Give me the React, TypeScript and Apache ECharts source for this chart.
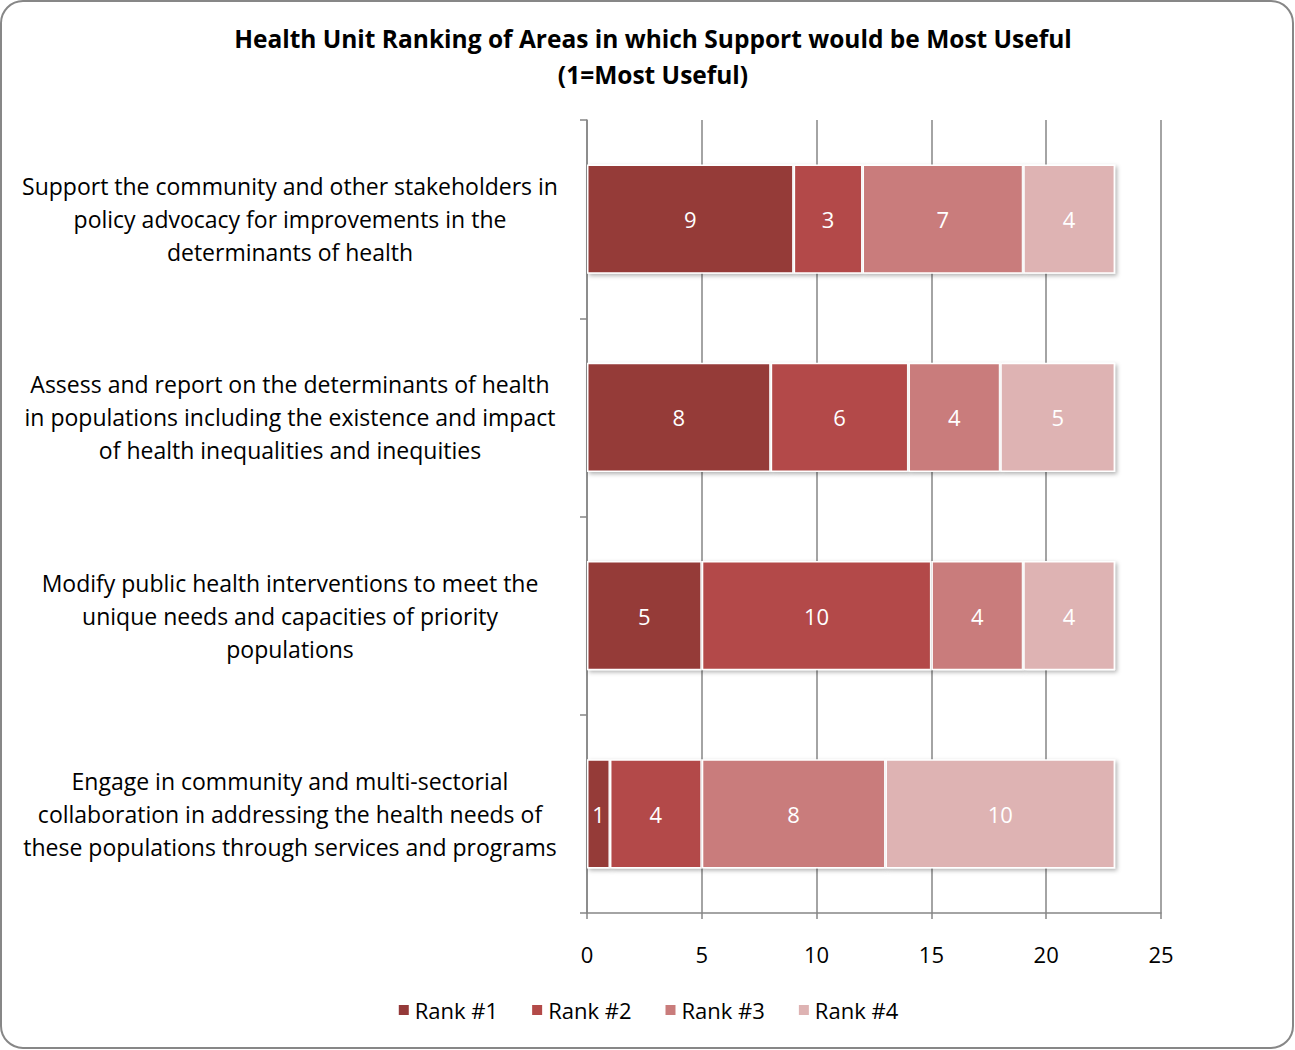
import React, { useEffect, useRef } from "react";
import * as echarts from "echarts";

const categories = [
  "Support the community and other stakeholders in\npolicy advocacy for improvements in the\ndeterminants of health",
  "Assess and report on the determinants of health\nin populations including the existence and impact\nof health inequalities and inequities",
  "Modify public health interventions to meet the\nunique needs and capacities of priority\npopulations",
  "Engage in community and multi-sectorial\ncollaboration in addressing the health needs of\nthese populations through services and programs",
];
const seriesNames = ["Rank #1", "Rank #2", "Rank #3", "Rank #4"];
const rank1 = [9, 8, 5, 1];
const rank2 = [3, 6, 10, 4];
const rank3 = [7, 4, 4, 8];
const rank4 = [4, 5, 4, 10];
const colors = ["#953A39", "#B34A48", "#C97C7B", "#DEB3B3"];

const FONT = "'Open Sans', Lato, sans-serif";

export default function App() {
  const ref = useRef<HTMLDivElement>(null);
  useEffect(() => {
    const chart = echarts.init(ref.current!, null, { renderer: "svg" });
    const values = [rank1, rank2, rank3, rank4];
    chart.setOption({
      animation: false,
      backgroundColor: "#ffffff",
      textStyle: { fontFamily: FONT },
      title: {
        text: "Health Unit Ranking of Areas in which Support would be Most Useful\n(1=Most Useful)",
        left: 648,
        textAlign: "center",
        top: 15,
        textStyle: {
          fontFamily: FONT,
          fontSize: 24.5,
          fontWeight: "bold",
          color: "#000",
          lineHeight: 36,
        },
      },
      graphic: [
        {
          type: "rect",
          shape: { x: 1, y: 1, width: 1292, height: 1047, r: 22 },
          style: { fill: "none", stroke: "#878787", lineWidth: 2 },
          silent: true,
        },
      ],
      legend: {
        bottom: 24,
        left: "center",
        itemWidth: 12,
        itemHeight: 12,
        itemGap: 32,
        icon: "rect",
        textStyle: { fontFamily: FONT, fontSize: 22, color: "#000" },
        data: seriesNames,
      },
      grid: { left: 587, right: 134, top: 120, bottom: 137, containLabel: false },
      xAxis: {
        type: "value",
        min: 0,
        max: 25,
        interval: 5,
        axisLine: { show: true, lineStyle: { color: "#868686", width: 1.5 } },
        axisTick: { show: true, length: 6, lineStyle: { color: "#868686", width: 1.5 } },
        splitLine: { show: true, lineStyle: { color: "#868686", width: 1.5 } },
        axisLabel: { fontFamily: FONT, fontSize: 22, color: "#000", margin: 30 },
      },
      yAxis: {
        type: "category",
        inverse: true,
        data: categories,
        axisLine: { show: true, lineStyle: { color: "#868686", width: 1.5 } },
        axisTick: { show: true, length: 7, lineStyle: { color: "#868686", width: 1.5 } },
        axisLabel: {
          fontFamily: FONT,
          fontSize: 23,
          color: "#000",
          align: "center",
          margin: 297,
          lineHeight: 33,
        },
      },
      series: values.map((v, i) => ({
        name: seriesNames[i],
        type: "bar",
        stack: "total",
        data: v,
        barCategoryGap: "45%",
        itemStyle: {
          color: colors[i],
          borderColor: "#ffffff",
          borderWidth: 1.5,
          shadowBlur: 4,
          shadowColor: "rgba(0,0,0,0.3)",
          shadowOffsetX: 2,
          shadowOffsetY: 2,
        },
        label: {
          show: true,
          position: "inside",
          color: "#ffffff",
          fontFamily: FONT,
          fontSize: 22,
        },
      })),
    });
    return () => chart.dispose();
  }, []);
  return (
    <div
      ref={ref}
      style={{ position: "absolute", left: 0, top: 0, width: 1295, height: 1050 }}
    />
  );
}
